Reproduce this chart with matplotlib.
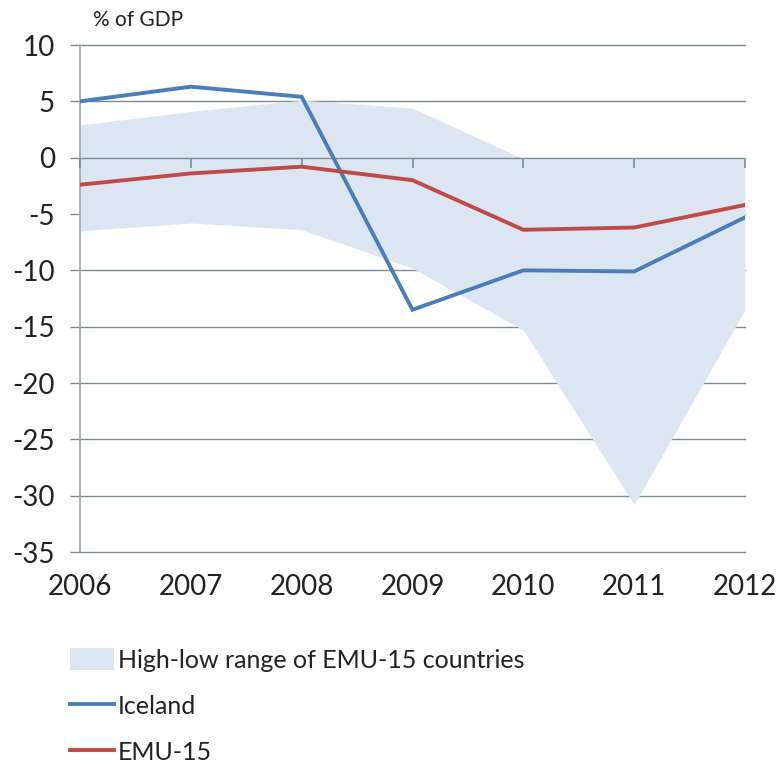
import matplotlib
matplotlib.use("Agg")
import matplotlib.pyplot as plt
from matplotlib.patches import Patch
from matplotlib.lines import Line2D
from matplotlib.markers import TICKDOWN

plt.rcParams['font.family'] = ['Lato', 'DejaVu Sans']

# general government balance, % of GDP
years = [2006, 2007, 2008, 2009, 2010, 2011, 2012]
iceland = [5.0, 6.3, 5.4, -13.5, -10.0, -10.1, -5.3]
emu15 = [-2.4, -1.4, -0.8, -2.0, -6.4, -6.2, -4.2]
range_high = [2.9, 4.1, 5.1, 4.4, -0.1, -0.1, -0.1]
range_low = [-6.5, -5.8, -6.4, -9.8, -15.3, -30.8, -13.5]

yticks = [10, 5, 0, -5, -10, -15, -20, -25, -30, -35]

BAND = '#dce6f2'
BLUE = '#4a7ebb'
RED = '#be4b48'
GRID = '#7a8b92'
TEXT = '#222222'

fig = plt.figure(figsize=(7.82, 7.67), dpi=100)
ax = fig.add_axes([80 / 782, 1 - 552 / 767, 665 / 782, 507 / 767])

ymin, ymax = -35, 10
ax.set_xlim(years[0], years[-1])
ax.set_ylim(ymin, ymax)

# horizontal gridlines sit under the shaded range
for y in yticks:
    if y != 0:
        ax.axhline(y, color=GRID, lw=1.0, zorder=1, clip_on=False)

ax.fill_between(years, range_low, range_high, color=BAND, lw=0, zorder=2)

# category axis crosses at zero, with tick marks hanging below it
ax.axhline(0, color=GRID, lw=1.0, zorder=3)
ax.plot(years, [0] * len(years), ls='none', marker=TICKDOWN, ms=7, mew=1.2,
        color=GRID, zorder=3, clip_on=False)

ax.plot(years, iceland, color=BLUE, lw=2.8, zorder=4, solid_joinstyle='miter')
ax.plot(years, emu15, color=RED, lw=2.8, zorder=5, solid_joinstyle='miter')

for side in ['top', 'right', 'bottom']:
    ax.spines[side].set_visible(False)
ax.spines['left'].set_color('#9aa5aa')
ax.spines['left'].set_linewidth(1.2)

ax.set_yticks(yticks)
ax.set_yticklabels([str(v) for v in yticks])
ax.tick_params(axis='y', direction='out', length=7, width=1, color=GRID,
               labelsize=20, pad=11, labelcolor=TEXT)

ax.set_xticks(years)
ax.set_xticklabels([str(y) for y in years])
ax.tick_params(axis='x', length=0, labelsize=20, pad=16, labelcolor=TEXT)

fig.text(93 / 782, 1 - 20 / 767, '% of GDP', fontsize=15, va='center', ha='left', color=TEXT)

handles = [
    Patch(facecolor=BAND, edgecolor='none', label='High-low range of EMU-15 countries'),
    Line2D([], [], color=BLUE, lw=2.8, label='Iceland'),
    Line2D([], [], color=RED, lw=2.8, label='EMU-15'),
]
fig.legend(handles=handles, loc='upper left', bbox_to_anchor=(70 / 782, 1 - 648 / 767),
           frameon=False, fontsize=18, handlelength=1.75, handleheight=1.0,
           handletextpad=0.15, labelspacing=0.9, borderpad=0, borderaxespad=0,
           labelcolor=TEXT)

fig.savefig('out.png', dpi=100, facecolor='white')
